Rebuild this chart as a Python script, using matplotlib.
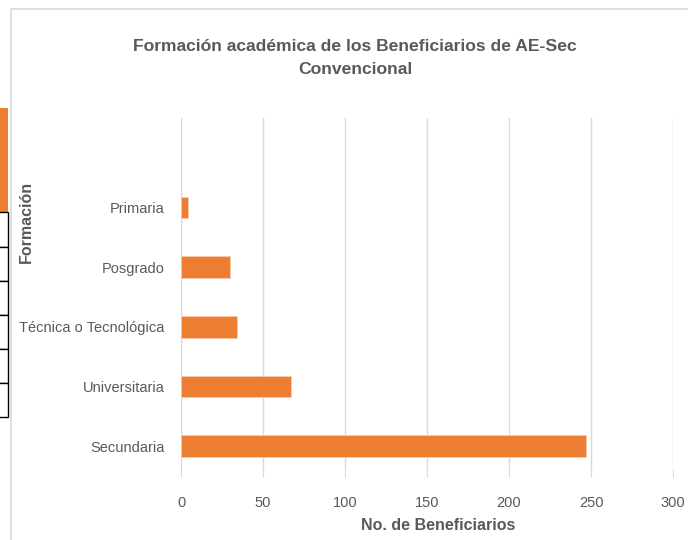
import matplotlib.pyplot as plt
from matplotlib.patches import Rectangle

plt.rcParams["font.family"] = ["Liberation Sans", "DejaVu Sans"]

categories = ["Secundaria", "Universitaria", "Técnica o Tecnológica", "Posgrado", "Primaria"]
values = [247, 67, 34, 30, 4]
x_ticks = [0, 50, 100, 150, 200, 250, 300]

title = "Formación académica de los Beneficiarios de AE-Sec\nConvencional"
x_label = "No. de Beneficiarios"
y_label = "Formación"

text_color = "#595959"
bar_color = "#ED7D31"
grid_color = "#D9D9D9"

fig = plt.figure(figsize=(6.88, 5.4), dpi=100)
W, H = 688, 540

# chart frame
fig.patches.append(Rectangle((11 / W, -0.05), 1.0, 1 - 9 / H + 0.05, transform=fig.transFigure,
                             fill=False, edgecolor="#D9D9D9", linewidth=1.2))

# spreadsheet fragments on the left edge
fig.patches.append(Rectangle((0, 1 - 212 / H), 8 / W, 104 / H, transform=fig.transFigure,
                             facecolor=bar_color, edgecolor="none"))
edges = [212, 247, 281, 315, 349, 383, 417]
for top, bot in zip(edges[:-1], edges[1:]):
    fig.patches.append(Rectangle((-0.01, 1 - bot / H), 8 / W + 0.01, (bot - top) / H,
                                 transform=fig.transFigure, facecolor="white",
                                 edgecolor="black", linewidth=1.0))

ax = fig.add_axes([181 / W, 70 / H, (673 - 181) / W, (470 - 118) / H])
ax.barh(range(len(categories)), values, height=0.36, color=bar_color,
        edgecolor="#F8CBAD", linewidth=0.6, zorder=3)

ax.set_xlim(0, 300)
ax.set_ylim(-0.4, 4.5 + 1.0)
ax.set_xticks(x_ticks)
ax.set_xticklabels([str(t) for t in x_ticks], fontsize=10.5, color=text_color)
ax.set_yticks(range(len(categories)))
ax.set_yticklabels(categories, fontsize=10.5, color=text_color)
ax.tick_params(axis="y", length=0, pad=12)
ax.tick_params(axis="x", length=5, color=grid_color, pad=14)
ax.xaxis.grid(True, color=grid_color, linewidth=1.0, zorder=0)
for s in ax.spines.values():
    s.set_visible(False)

fig.text(355 / W, 1 - 58 / H, title, ha="center", va="center", fontsize=12.6,
         fontweight="bold", color=text_color, linespacing=1.7)
fig.text(438 / W, 1 - 525 / H, x_label, ha="center", va="center", fontsize=11.5,
         fontweight="bold", color=text_color)
fig.text(26 / W, 1 - 222 / H, y_label, ha="center", va="center", rotation=90,
         fontsize=11.5, fontweight="bold", color=text_color)

fig.savefig("out.png", dpi=100)
